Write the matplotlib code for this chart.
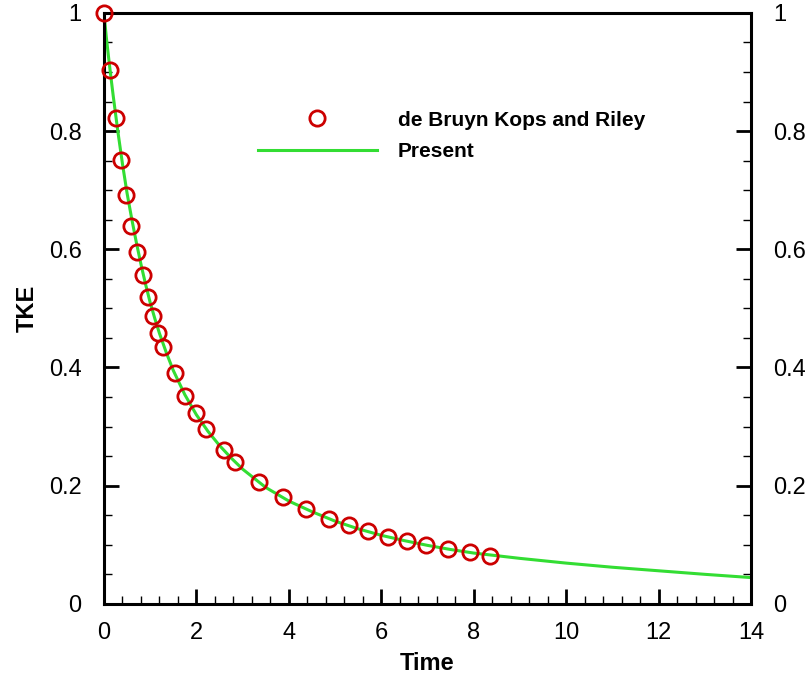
import matplotlib.pyplot as plt
from matplotlib.ticker import MultipleLocator

plt.rcParams['font.family'] = ['Liberation Sans', 'DejaVu Sans']

# de Bruyn Kops and Riley reference data
t_ref = [0.0, 0.13, 0.26, 0.37, 0.48, 0.58, 0.71, 0.84, 0.95, 1.06, 1.17, 1.28,
         1.54, 1.75, 1.99, 2.21, 2.60, 2.84, 3.35, 3.87, 4.37, 4.87, 5.30, 5.71,
         6.15, 6.56, 6.97, 7.45, 7.92, 8.35]
tke_ref = [1.0, 0.903, 0.822, 0.751, 0.692, 0.640, 0.596, 0.557, 0.519, 0.487,
           0.459, 0.435, 0.391, 0.352, 0.323, 0.296, 0.261, 0.240, 0.206, 0.181,
           0.161, 0.144, 0.134, 0.124, 0.113, 0.107, 0.100, 0.093, 0.088, 0.081]

# present simulation
t_sim = [0.0, 0.05, 0.1, 0.15, 0.2, 0.3, 0.4, 0.5, 0.6, 0.7, 0.8, 0.9, 1.0, 1.1,
         1.2, 1.35, 1.5, 1.75, 2.0, 2.25, 2.5, 2.75, 3.0, 3.5, 4.0, 4.5, 5.0,
         5.5, 6.0, 6.5, 7.0, 7.5, 8.0, 9.0, 10.0, 11.0, 12.0, 13.0, 14.0]
tke_sim = [1.0, 0.96, 0.925, 0.892, 0.86, 0.80, 0.745, 0.695, 0.652, 0.612,
           0.575, 0.541, 0.510, 0.483, 0.458, 0.425, 0.395, 0.354, 0.320, 0.292,
           0.268, 0.247, 0.228, 0.197, 0.174, 0.156, 0.140, 0.127, 0.116, 0.107,
           0.099, 0.092, 0.086, 0.077, 0.069, 0.062, 0.056, 0.050, 0.0445]

fig = plt.figure(figsize=(8.12, 6.77), dpi=100)
ax = fig.add_axes([0.128, 0.108, 0.797, 0.873])

ax.plot(t_sim, tke_sim, color='#33dd33', lw=2.2, label='Present', zorder=2)
ax.plot(t_ref, tke_ref, 'o', mfc='none', mec='#cc0000', ms=11, mew=2.0,
        label='de Bruyn Kops and Riley', zorder=3, clip_on=False)

ax.set_xlim(0, 14)
ax.set_ylim(0, 1)
ax.xaxis.set_major_locator(MultipleLocator(2))
ax.xaxis.set_minor_locator(MultipleLocator(0.4))
ax.yaxis.set_major_locator(MultipleLocator(0.2))
ax.yaxis.set_minor_locator(MultipleLocator(0.05))
ax.set_yticks([0, 0.2, 0.4, 0.6, 0.8, 1.0])
ax.set_yticklabels(['0', '0.2', '0.4', '0.6', '0.8', '1'])

for s in ax.spines.values():
    s.set_linewidth(2.2)
ax.tick_params(which='major', direction='in', length=11, width=2, labelsize=17,
               right=True, labelright=True, top=False)
ax.tick_params(axis='x', which='major', pad=13)
ax.tick_params(axis='y', which='major', pad=16)
ax.tick_params(which='minor', direction='in', length=6, width=1, right=True, top=False)

ax.set_xlabel('Time', fontsize=17, fontweight='bold')
ax.set_ylabel('TKE', fontsize=17, fontweight='bold')
ax.xaxis.set_label_coords(0.5, -0.081)
ax.yaxis.set_label_coords(-0.100, 0.5)

handles, labels = ax.get_legend_handles_labels()
ax.legend(handles[::-1], labels[::-1], loc='upper left', bbox_to_anchor=(0.305, 0.852),
          bbox_transform=fig.transFigure, frameon=False, prop={'size': 15, 'weight': 'bold'},
          handlelength=5.7, handletextpad=1.0, labelspacing=0.6, borderpad=0)

fig.savefig('out.png', dpi=100)
